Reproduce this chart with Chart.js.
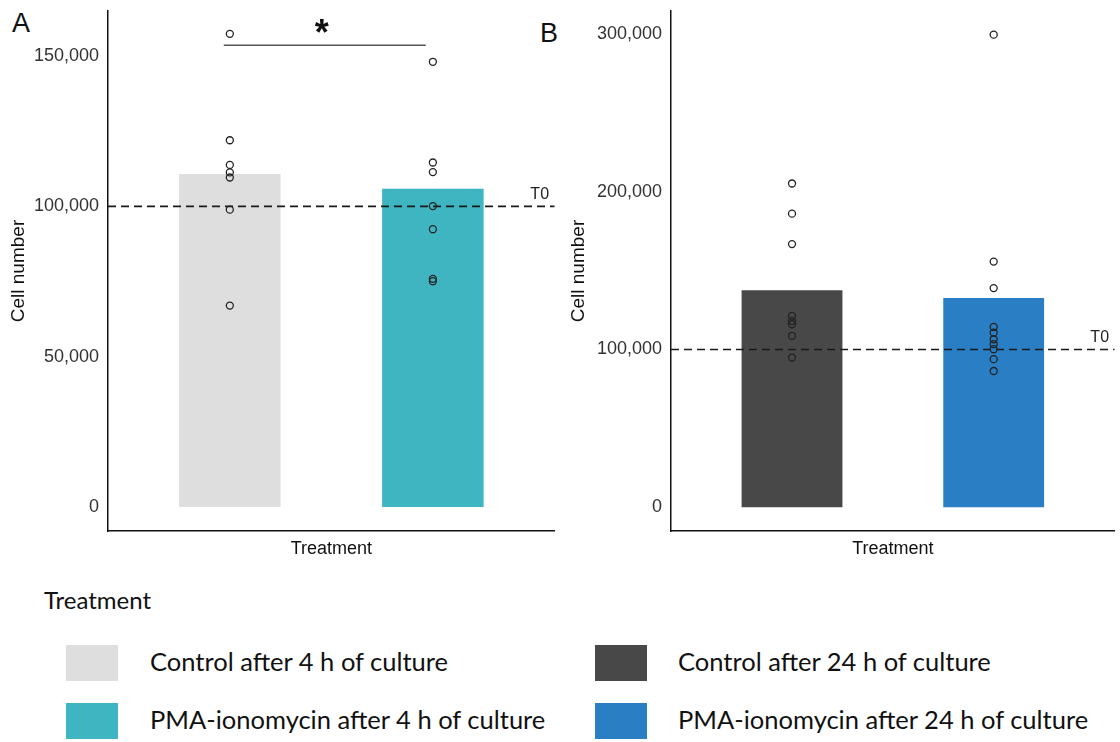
<!DOCTYPE html>
<html lang="en">
  <head>
    <meta charset="UTF-8" />
    <title>Cell number by treatment</title>
    <script src="https://cdn.jsdelivr.net/npm/chart.js"></script>
    <style>
      body {
        margin: 0;
        width: 1120px;
        height: 742px;
        background: #fff;
        position: relative;
        overflow: hidden;
        font-family: "Liberation Sans", Arial, sans-serif;
      }
      canvas {
        position: absolute;
        top: 0;
      }
      .tag {
        position: absolute;
        font-size: 27px;
        color: #111;
        line-height: 1;
      }
      .legend-title,
      .legend-text {
        position: absolute;
        font-family: Lato, sans-serif;
        color: #111;
        line-height: 1;
        white-space: nowrap;
      }
      .legend-title {
        font-size: 24px;
      }
      .legend-text {
        font-size: 25.5px;
      }
      .swatch {
        position: absolute;
        width: 52px;
        height: 36px;
      }
    </style>
  </head>
  <body>
    <div class="tag" style="left: 12px; top: 10px">A</div>
    <div class="tag" style="left: 540px; top: 20px">B</div>
    <canvas id="chartA" width="560" height="560" style="left: 0"></canvas>
    <canvas id="chartB" width="560" height="560" style="left: 560px"></canvas>
    <div id="legend"></div>

    <script>
      // treatment groups
      const groups = ["Control", "PMA-ionomycin"];
      const legendLabels = [
        "Control after 4 h of culture",
        "PMA-ionomycin after 4 h of culture",
        "Control after 24 h of culture",
        "PMA-ionomycin after 24 h of culture",
      ];
      const colors = ["#dedede", "#3fb5c1", "#484848", "#2a7fc4"];

      const t0 = 100000;

      // panel A: 4 h
      const barsA = [110800, 105900];
      const controlA = [157400, 122000, 113800, 111300, 109600, 98900, 67000];
      const pmaA = [148100, 114600, 111400, 100100, 92400, 75900, 75100];
      const ticksA = [0, 50000, 100000, 150000];

      // panel B: 24 h
      const barsB = [137600, 132600];
      const controlB = [205200, 186100, 166800, 121300, 118100, 116000, 108600, 94900];
      const pmaB = [299500, 155700, 138900, 114300, 110700, 106500, 103400, 100200, 93900, 86400];
      const ticksB = [0, 100000, 200000, 300000];

      const overlay = {
        id: "overlay",
        afterDatasetsDraw(chart, args, opts) {
          const { ctx, chartArea } = chart;
          const { x, y } = chart.scales;
          const yT0 = y.getPixelForValue(t0);
          ctx.save();
          ctx.fillStyle = "#222";
          ctx.font = '16px "Liberation Sans"';
          ctx.textAlign = "center";
          ctx.textBaseline = "middle";
          ctx.fillText("T0", chartArea.right - 15, yT0 - 12);
          if (opts.sig) {
            const s = opts.sig;
            const yy = y.getPixelForValue(s.y);
            const x1 = x.getPixelForValue(s.from);
            const x2 = x.getPixelForValue(s.to);
            ctx.strokeStyle = "#555";
            ctx.lineWidth = 1.5;
            ctx.beginPath();
            ctx.moveTo(x1, yy);
            ctx.lineTo(x2, yy);
            ctx.stroke();
            ctx.fillStyle = "#111";
            ctx.font = 'bold 36px "Liberation Sans"';
            ctx.textBaseline = "alphabetic";
            ctx.fillText(s.label, (x1 + x2) / 2 - 3, yy);
          }
          ctx.restore();
        },
      };

      function makePanel(id, bars, pts, barColors, yMin, yMax, tickVals, axisW, sig) {
        const scatter = [];
        pts.forEach((vals, i) => vals.forEach((v) => scatter.push({ x: i + 1, y: v })));
        return new Chart(document.getElementById(id), {
          type: "bar",
          data: {
            datasets: [
              {
                type: "scatter",
                data: scatter,
                pointRadius: 3.5,
                pointBorderWidth: 1.3,
                borderColor: "#222",
                backgroundColor: "rgba(0,0,0,0)",
                order: 0,
              },
              {
                type: "line",
                data: [
                  { x: 0.4, y: t0 },
                  { x: 2.6, y: t0 },
                ],
                borderColor: "#1a1a1a",
                borderWidth: 1.7,
                borderDash: [8, 5],
                pointRadius: 0,
                order: 1,
              },
              {
                data: bars.map((v, i) => ({ x: i + 1, y: v })),
                backgroundColor: barColors,
                categoryPercentage: 0.5,
                barPercentage: 1,
                order: 2,
              },
            ],
          },
          options: {
            responsive: false,
            animation: false,
            layout: { padding: { top: 11, right: 3, left: 0, bottom: 0 } },
            plugins: {
              legend: { display: false },
              tooltip: { enabled: false },
              overlay: { sig: sig },
            },
            scales: {
              x: {
                type: "linear",
                min: 0.4,
                max: 2.6,
                offset: false,
                afterBuildTicks: (s) => {
                  s.ticks = groups.map((g, i) => ({ value: i + 1 }));
                },
                afterFit: (s) => {
                  s.height = 29;
                  s.paddingLeft = 0;
                  s.paddingRight = 0;
                },
                ticks: { display: false },
                grid: { display: false, drawTicks: false },
                border: { display: true, color: "#111", width: 1.5 },
                title: {
                  display: true,
                  text: "Treatment",
                  color: "#111",
                  font: { family: "Liberation Sans", size: 18 },
                  padding: { top: 2, bottom: 0 },
                },
              },
              y: {
                min: yMin,
                max: yMax,
                afterBuildTicks: (s) => {
                  s.ticks = tickVals.map((v) => ({ value: v }));
                },
                afterFit: (s) => {
                  s.width = axisW;
                  s.paddingTop = 0;
                  s.paddingBottom = 0;
                },
                ticks: {
                  color: "#333",
                  padding: 9,
                  font: { family: "Liberation Sans", size: 18 },
                  callback: (v) => v.toLocaleString("en-US"),
                },
                grid: { display: false, drawTicks: false },
                border: { display: true, color: "#111", width: 1.5 },
                title: {
                  display: true,
                  text: "Cell number",
                  color: "#111",
                  font: { family: "Liberation Sans", size: 19 },
                  padding: { top: 7, bottom: 0 },
                },
              },
            },
          },
          plugins: [overlay],
        });
      }

      makePanel("chartA", barsA, [controlA, pmaA], colors.slice(0, 2), -8000, 165000, ticksA, 108, {
        from: 0.97,
        to: 1.965,
        y: 153600,
        label: "*",
      });
      makePanel("chartB", barsB, [controlB, pmaB], colors.slice(2, 4), -15000, 314500, ticksB, 111, null);

      // legend
      const legend = document.getElementById("legend");
      const title = document.createElement("div");
      title.className = "legend-title";
      title.style.left = "44px";
      title.style.top = "588px";
      title.textContent = "Treatment";
      legend.appendChild(title);
      const spots = [
        { sx: 66, tx: 150, y: 645 },
        { sx: 66, tx: 150, y: 703 },
        { sx: 595, tx: 678, y: 645 },
        { sx: 595, tx: 678, y: 703 },
      ];
      legendLabels.forEach((label, i) => {
        const sw = document.createElement("div");
        sw.className = "swatch";
        sw.style.left = spots[i].sx + "px";
        sw.style.top = spots[i].y + "px";
        sw.style.background = colors[i];
        legend.appendChild(sw);
        const tx = document.createElement("div");
        tx.className = "legend-text";
        tx.style.left = spots[i].tx + "px";
        tx.style.top = spots[i].y + 4 + "px";
        tx.textContent = label;
        legend.appendChild(tx);
      });
    </script>
  </body>
</html>
